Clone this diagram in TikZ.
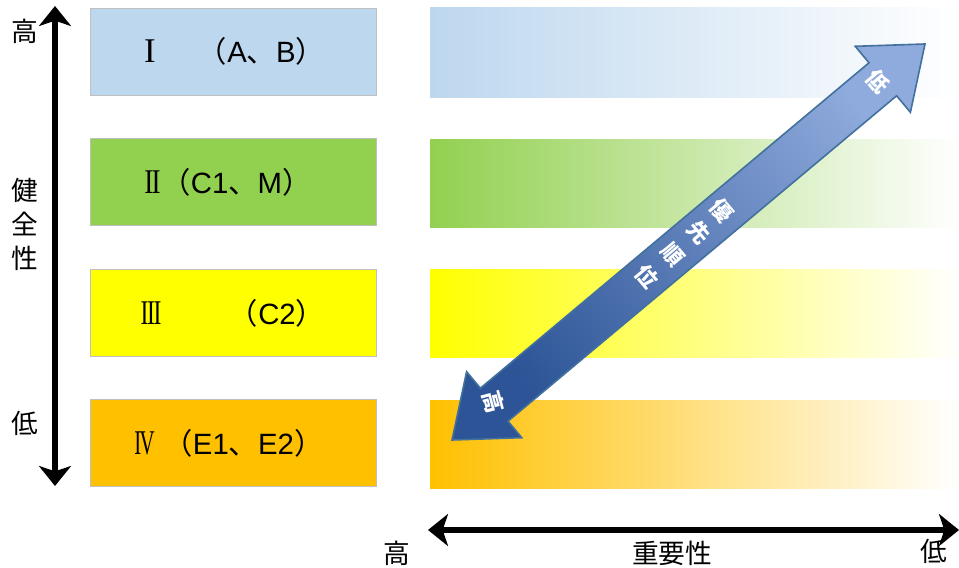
\documentclass[tikz,border=0pt]{standalone}
\usepackage{fontspec}
\setmainfont{Liberation Sans}
\newfontfamily\jpfont{Noto Sans CJK JP}
\newfontfamily\romfont{Liberation Serif}
\newcommand\jp[1]{{\jpfont #1}}
\usetikzlibrary{arrows.meta}
\definecolor{boxgray}{RGB}{191,191,191}
\definecolor{lvone}{RGB}{189,215,238}
\definecolor{lvtwo}{RGB}{146,208,80}
\definecolor{lvthree}{RGB}{255,255,0}
\definecolor{lvfour}{RGB}{255,192,0}
\definecolor{arrdark}{RGB}{44,84,150}
\definecolor{arrmid}{RGB}{72,116,192}
\definecolor{arrlight}{RGB}{143,170,220}
\definecolor{arredge}{RGB}{65,113,156}
\tikzset{
  levelbox/.style={draw=boxgray, line width=1.1pt, minimum width=286*0.75pt, minimum height=87*0.75pt, anchor=north west},
  boxtext/.style={font=\fontsize{22}{26}\selectfont, inner sep=0pt, anchor=base},
  romtext/.style={font=\romfont\fontsize{26}{30}\selectfont, inner sep=0pt, anchor=base},
  axislabel/.style={font=\jpfont\fontsize{20}{24}\selectfont, inner sep=0pt},
  arrowtext/.style={font=\jpfont\fontsize{16.5}{18}\selectfont\bfseries, text=white, inner sep=0pt, rotate=-50},
  blackaxis/.style={line width=4.5pt, {Stealth[length=15pt,width=24pt,inset=4pt]}-{Stealth[length=15pt,width=24pt,inset=4pt]}}
}
\begin{document}
\begin{tikzpicture}[x=0.75pt,y=-0.75pt]
\useasboundingbox (0,0) rectangle (959,567);
% gradient bands
\shade[left color=lvone, right color=white] (430,8) rectangle (959,97);
\shade[left color=lvtwo, right color=white] (430,139) rectangle (959,227);
\shade[left color=lvthree, right color=white] (430,269) rectangle (959,357);
\shade[left color=lvfour, right color=white] (430,400) rectangle (959,488);
% level boxes
\node[levelbox, fill=lvone] (b1) at (90,8) {};
\node[levelbox, fill=lvtwo] (b2) at (90,138) {};
\node[levelbox, fill=lvthree] (b3) at (90,269) {};
\node[levelbox, fill=lvfour] (b4) at (90,399) {};
\node[romtext] (r1) at (150,63) {I};
\node[boxtext] (t1) at (261.5,63) {\jp{（}A\jp{、}B\jp{）}};
\node[romtext] (r2) at (152.5,193) {\scalebox{0.78}[1]{I\kern-1.5pt I}};
\node[boxtext] (t2) at (236.5,193) {\jp{（}C1\jp{、}M\jp{）}};
\node[romtext] (r3) at (151,324) {\scalebox{0.68}[1]{I\kern-1.5pt I\kern-1.5pt I}};
\node[boxtext] (t3) at (277,324) {\jp{（}C2\jp{）}};
\node[romtext] (r4) at (144.5,454) {\scalebox{0.6}[1]{I\kern-2pt V}};
\node[boxtext] (t4) at (243.5,454) {\jp{（}E1\jp{、}E2\jp{）}};
% vertical axis
\coordinate (vtop) at (55,6);
\coordinate (vbot) at (55,486);
\draw[blackaxis] (vbot) -- (vtop);
\node[axislabel] (vhigh) at (25,31) {高};
\node[axislabel] (vk1) at (25,190) {健};
\node[axislabel] (vk2) at (25,224) {全};
\node[axislabel] (vk3) at (25,258) {性};
\node[axislabel] (vlow) at (25,423) {低};
% horizontal axis
\coordinate (hleft) at (428,530);
\coordinate (hright) at (959,530);
\draw[blackaxis] (hleft) -- (hright);
\node[axislabel] (hhigh) at (397,553) {高};
\node[axislabel] (himp) at (672,553) {重要性};
\node[axislabel] (hlow) at (934,551) {低};
% priority arrow
\shade[left color=arrdark, middle color=arrmid, right color=arrlight, shading angle=130, draw=arredge, line width=1.2pt, line join=miter]
  (452,440) -- (466.6,371.7) -- (480.4,388.2) -- (869.0,62.8) -- (855.2,46.3) -- (925,44)
  -- (910.4,112.3) -- (896.6,95.8) -- (508.0,421.2) -- (521.8,437.7) -- cycle;
\node[arrowtext] (plow) at (878,82) {低};
\node[arrowtext] (p1) at (722,211) {優};
\node[arrowtext] (p2) at (698.5,233) {先};
\node[arrowtext] (p3) at (673,255) {順};
\node[arrowtext] (p4) at (647,277) {位};
\node[arrowtext, rotate=-25] (phigh) at (493,402) {高};
\end{tikzpicture}
\end{document}
